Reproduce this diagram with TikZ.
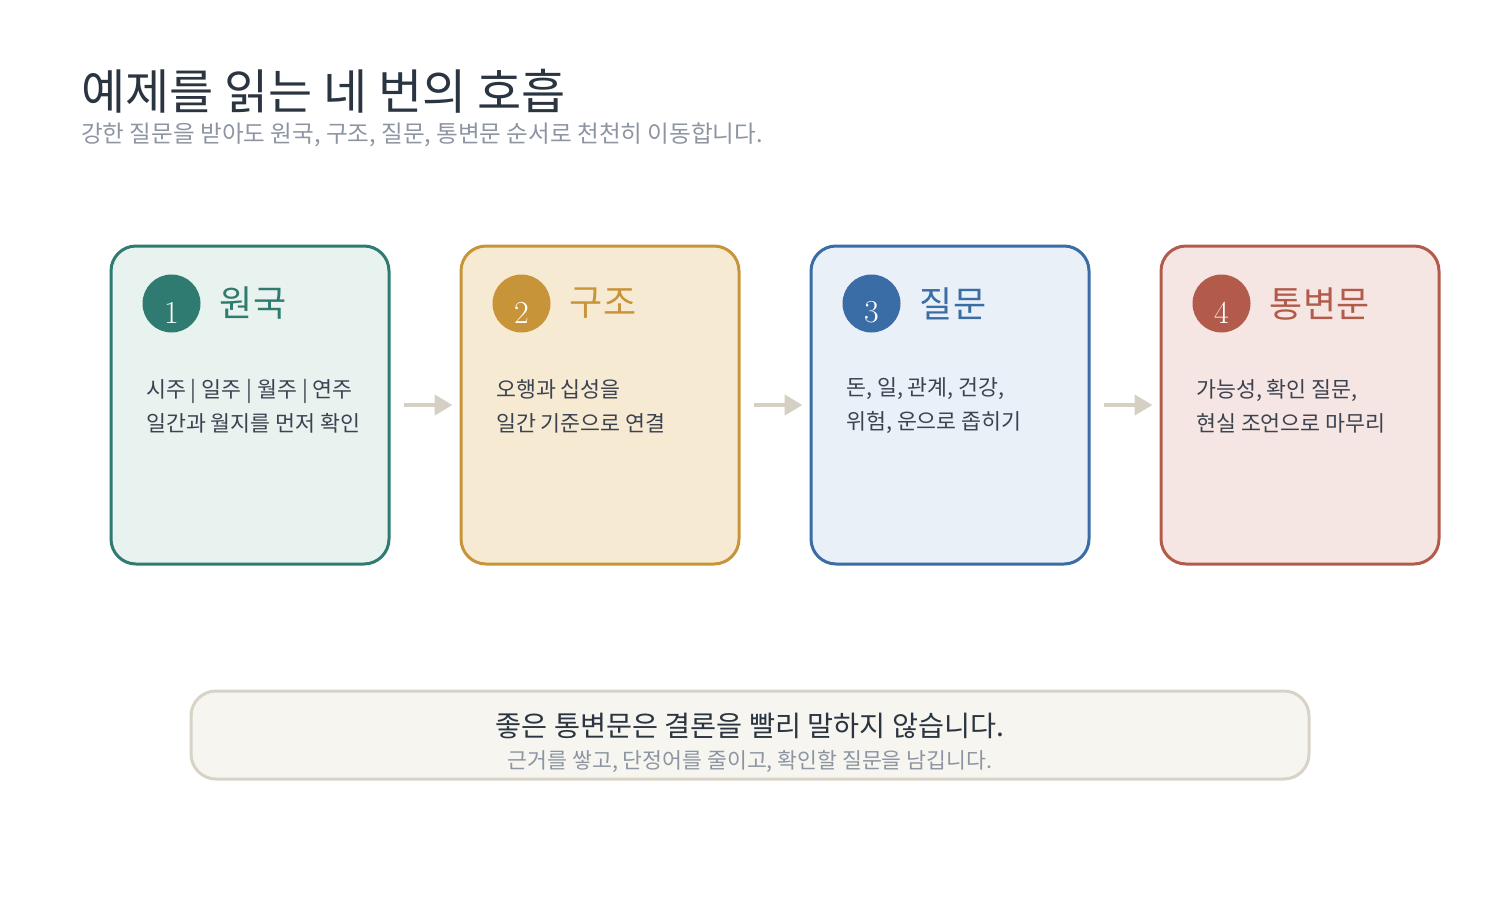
\documentclass[tikz,border=0pt]{standalone}
\usepackage{fontspec}
\usepackage{tikz}
\usetikzlibrary{arrows.meta}
\newfontfamily\kr{Noto Sans CJK KR}

\definecolor{inkdark}{HTML}{2B3441}
\definecolor{inkbody}{HTML}{3B4351}
\definecolor{inkgray}{HTML}{8D95A2}
\definecolor{tealline}{HTML}{2F7B72}
\definecolor{tealfill}{HTML}{E8F2EE}
\definecolor{goldline}{HTML}{C8943A}
\definecolor{goldfill}{HTML}{F7EAD2}
\definecolor{blueline}{HTML}{3A6CA6}
\definecolor{bluefill}{HTML}{E9F0F8}
\definecolor{redline}{HTML}{B35B4B}
\definecolor{redfill}{HTML}{F6E6E3}
\definecolor{flowgray}{HTML}{D6D0C4}
\definecolor{notefill}{HTML}{F6F5F0}
\definecolor{noteline}{HTML}{D9D3C6}

\tikzset{
  stagecard/.style={draw=#1line, fill=#1fill, line width=3pt, rounded corners=25pt,
    minimum width=278pt, minimum height=318pt, inner sep=0pt},
  stagebadge/.style={circle, fill=#1line, minimum size=58pt, inner sep=0pt},
  stagenum/.style={text=white, font=\fontsize{32}{32}\selectfont, inner sep=0pt},
  stagename/.style={text=#1line, font=\kr\fontsize{36}{36}\selectfont, anchor=west, inner sep=0pt},
  stagetext/.style={text=inkbody, font=\kr\fontsize{21.7}{34}\selectfont, align=left, anchor=west, inner sep=0pt},
  flow/.style={draw=flowgray, line width=4.5pt, -{Triangle[length=18pt,width=20pt]},
    shorten <=13pt, shorten >=7pt}
}

\begin{document}
\begin{tikzpicture}[x=1pt,y=-1pt]
		\useasboundingbox (0,0) rectangle (1500,900);

		% heading
		\node[anchor=west, inner sep=0pt, text=inkdark, font=\kr\fontsize{48}{48}\selectfont] (title) at (81,91) {예제를 읽는 네 번의 호흡};
		\node[anchor=west, inner sep=0pt, text=inkgray, font=\kr\fontsize{23.6}{24}\selectfont] (subtitle) at (81,135) {강한 질문을 받아도 원국, 구조, 질문, 통변문 순서로 천천히 이동합니다.};

		% stage cards
		\node[stagecard=teal] (c1) at (250,405) {};
		\node[stagecard=gold] (c2) at (600,405) {};
		\node[stagecard=blue] (c3) at (950,405) {};
		\node[stagecard=red]  (c4) at (1300,405) {};

		\node[stagebadge=teal] (b1) at ([shift={(62,59)}]c1.north west) {};
		\node[stagebadge=gold] (b2) at ([shift={(62,59)}]c2.north west) {};
		\node[stagebadge=blue] (b3) at ([shift={(62,59)}]c3.north west) {};
		\node[stagebadge=red]  (b4) at ([shift={(62,59)}]c4.north west) {};

		\node[stagenum] (n1) at ([yshift=-9pt]b1.center) {1};
		\node[stagenum] (n2) at ([yshift=-9pt]b2.center) {2};
		\node[stagenum] (n3) at ([yshift=-9pt]b3.center) {3};
		\node[stagenum] (n4) at ([yshift=-9pt]b4.center) {4};

		\node[stagename=teal] (h1) at ([xshift=19pt]b1.east) {원국};
		\node[stagename=gold] (h2) at ([xshift=19pt]b2.east) {구조};
		\node[stagename=blue] (h3) at ([xshift=19pt]b3.east) {질문};
		\node[stagename=red]  (h4) at ([xshift=19pt]b4.east) {통변문};

		\node[stagetext] (t1) at ([shift={(-104,1)}]c1.center) {시주 | 일주 | 월주 | 연주\\일간과 월지를 먼저 확인};
		\node[stagetext] (t2) at ([shift={(-104,1)}]c2.center) {오행과 십성을\\일간 기준으로 연결};
		\node[stagetext] (t3) at ([shift={(-104,1)}]c3.center) {돈, 일, 관계, 건강,\\위험, 운으로 좁히기};
		\node[stagetext] (t4) at ([shift={(-104,1)}]c4.center) {가능성, 확인 질문,\\현실 조언으로 마무리};

		\draw[flow] (c1) -- (c2);
		\draw[flow] (c2) -- (c3);
		\draw[flow] (c3) -- (c4);

		% closing note
		\node[draw=noteline, fill=notefill, line width=3pt, rounded corners=25pt,
			minimum width=1118pt, minimum height=88pt] (note) at (750,735) {};
		\node[inner sep=0pt, text=inkdark, font=\kr\fontsize{28.3}{28}\selectfont] (notemain) at ([yshift=9pt]note.center) {좋은 통변문은 결론을 빨리 말하지 않습니다.};
		\node[inner sep=0pt, text=inkgray, font=\kr\fontsize{21.6}{22}\selectfont] (notesub) at ([yshift=-27pt]note.center) {근거를 쌓고, 단정어를 줄이고, 확인할 질문을 남깁니다.};
	\end{tikzpicture}
\end{document}
